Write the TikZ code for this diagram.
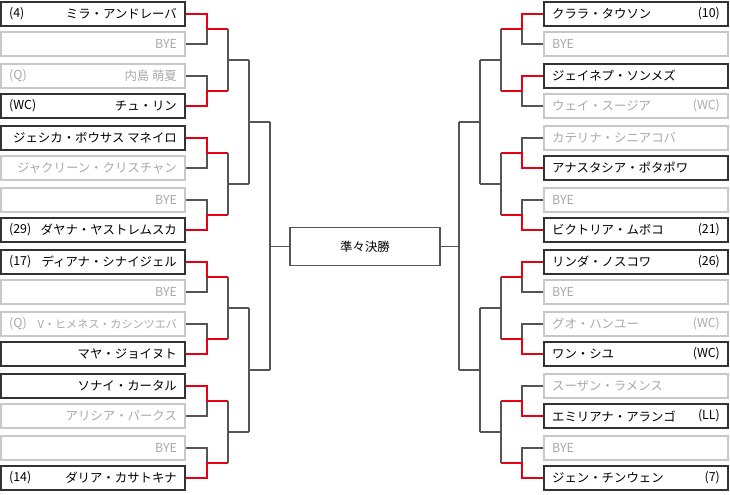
\documentclass[tikz,border=0pt]{standalone}
\usepackage{fontspec}
\setmainfont{Noto Sans CJK JP}
\definecolor{lostxt}{HTML}{A8A8A8}
\definecolor{losbd}{HTML}{C8C8C8}
\definecolor{winbd}{HTML}{333333}
\definecolor{ln}{HTML}{555555}
\definecolor{rd}{HTML}{E60012}
\newcommand{\smtxt}[1]{{\fontsize{8.3pt}{10pt}\selectfont #1}}
\tikzset{
  pbox/.style={draw, line width=0.9pt, minimum width=138pt, minimum height=18pt, inner sep=0pt, anchor=center},
  winbox/.style={pbox, draw=winbd},
  losbox/.style={pbox, draw=losbd},
  gl/.style={draw=ln, line width=0.8pt},
  rl/.style={draw=rd, line width=2.1pt},
  txt/.style={font=\fontsize{9.3pt}{11pt}\selectfont}
}
\begin{document}
\begin{tikzpicture}[x=0.75pt,y=-0.75pt]
\useasboundingbox (0,0) rectangle (730,494);
\foreach \i/\st/\tc/\sd/\nm in {
 1/winbox/black/(4)/ミラ・アンドレーバ, 2/losbox/lostxt//BYE, 3/losbox/lostxt/(Q)/内島 萌夏, 4/winbox/black/(WC)/チュ・リン,
 5/winbox/black//ジェシカ・ボウサス マネイロ, 6/losbox/lostxt//ジャクリーン・クリスチャン, 7/losbox/lostxt//BYE, 8/winbox/black/(29)/ダヤナ・ヤストレムスカ,
 9/winbox/black/(17)/ディアナ・シナイジェル, 10/losbox/lostxt//BYE, 11/losbox/lostxt/(Q)/\smtxt{V・ヒメネス・カシンツエバ}, 12/winbox/black//マヤ・ジョイヌト,
 13/winbox/black//ソナイ・カータル, 14/losbox/lostxt//アリシア・パークス, 15/losbox/lostxt//BYE, 16/winbox/black/(14)/ダリア・カサトキナ}{
 \pgfmathsetmacro\p{int((\i-1)/2)}
 \pgfmathsetmacro\yy{14+62*\p+30*mod(\i-1,2)}
 \node[\st] (L\i) at (93,\yy) {};
 \node[txt,text=\tc,anchor=west] at ([xshift=3pt]L\i.west) {\sd};
 \node[txt,text=\tc,anchor=east] at ([xshift=-3pt]L\i.east) {\nm};
}
\foreach \i/\st/\tc/\sd/\nm in {
 1/winbox/black/(10)/クララ・タウソン, 2/losbox/lostxt//BYE, 3/winbox/black//ジェイネプ・ソンメズ, 4/losbox/lostxt/(WC)/ウェイ・スージア,
 5/losbox/lostxt//カテリナ・シニアコバ, 6/winbox/black//アナスタシア・ポタポワ, 7/losbox/lostxt//BYE, 8/winbox/black/(21)/ビクトリア・ムボコ,
 9/winbox/black/(26)/リンダ・ノスコワ, 10/losbox/lostxt//BYE, 11/losbox/lostxt/(WC)/グオ・ハンユー, 12/winbox/black/(WC)/ワン・シユ,
 13/losbox/lostxt//スーザン・ラメンス, 14/winbox/black/(LL)/エミリアナ・アランゴ, 15/losbox/lostxt//BYE, 16/winbox/black/(7)/ジェン・チンウェン}{
 \pgfmathsetmacro\p{int((\i-1)/2)}
 \pgfmathsetmacro\yy{14+62*\p+30*mod(\i-1,2)}
 \node[\st] (R\i) at (636,\yy) {};
 \node[txt,text=\tc,anchor=east] at ([xshift=-3pt]R\i.east) {\sd};
 \node[txt,text=\tc,anchor=west] at ([xshift=3pt]R\i.west) {\nm};
}
\node[draw=ln, line width=0.8pt, minimum width=112.5pt, minimum height=29pt, inner sep=0pt, txt] (F) at (365,246.5) {準々決勝};
\foreach \p/\w/\l in {0/1/2,1/4/3,2/5/6,3/8/7,4/9/10,5/12/11,6/13/14,7/16/15}{
 \pgfmathsetmacro\m{29+62*\p}
 \coordinate (LA\p) at (207,\m);
 \coordinate (LB\p) at (228,\m);
 \draw[gl] (L\l.east) -| (LA\p);
 \draw[rl] (L\w.east) -| (LA\p) -- (LB\p);
}
\foreach \p/\w/\l in {0/1/2,1/3/4,2/6/5,3/8/7,4/9/10,5/12/11,6/14/13,7/16/15}{
 \pgfmathsetmacro\m{29+62*\p}
 \coordinate (RA\p) at (522,\m);
 \coordinate (RB\p) at (501,\m);
 \draw[gl] (R\l.west) -| (RA\p);
 \draw[rl] (R\w.west) -| (RA\p) -- (RB\p);
}
\foreach \q in {0,1,2,3}{
 \pgfmathsetmacro\a{int(2*\q)}
 \pgfmathsetmacro\b{int(2*\q+1)}
 \pgfmathsetmacro\m{60+124*\q}
 \coordinate (LC\q) at (249,\m);
 \coordinate (RC\q) at (480,\m);
 \draw[gl] (LB\a) -- (LB\b);
 \draw[gl] (LB\a |- LC\q) -- (LC\q);
 \draw[gl] (RB\a) -- (RB\b);
 \draw[gl] (RB\a |- RC\q) -- (RC\q);
}
\foreach \r in {0,1}{
 \pgfmathsetmacro\a{int(2*\r)}
 \pgfmathsetmacro\b{int(2*\r+1)}
 \pgfmathsetmacro\m{122+248*\r}
 \coordinate (LD\r) at (270,\m);
 \coordinate (RD\r) at (459,\m);
 \draw[gl] (LC\a) -- (LC\b);
 \draw[gl] (LC\a |- LD\r) -- (LD\r);
 \draw[gl] (RC\a) -- (RC\b);
 \draw[gl] (RC\a |- RD\r) -- (RD\r);
}
\draw[gl] (LD0) -- (LD1);
\draw[gl] (LD0 |- F.west) -- (F.west);
\draw[gl] (RD0) -- (RD1);
\draw[gl] (RD0 |- F.east) -- (F.east);
\end{tikzpicture}
\end{document}
